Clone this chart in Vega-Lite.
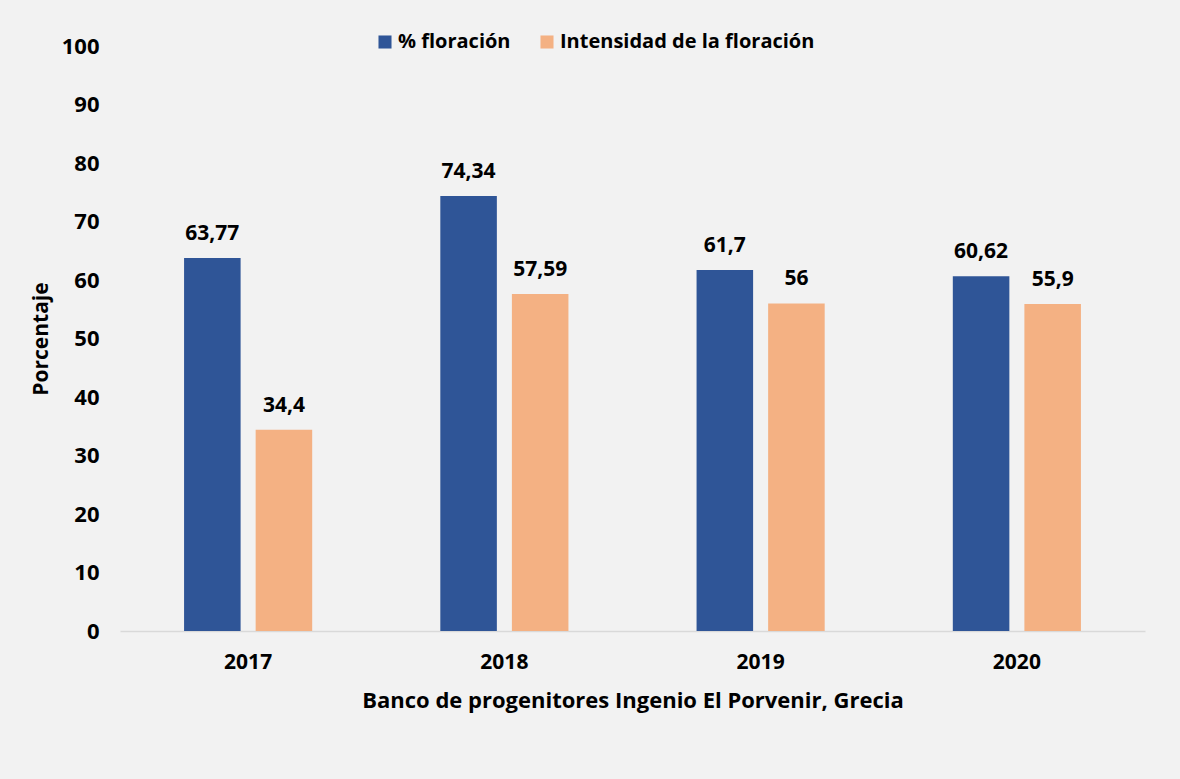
{
  "$schema": "https://vega.github.io/schema/vega-lite/v6.json",
  "autosize": "none",
  "width": 1025,
  "height": 585,
  "padding": {"left": 120, "top": 46, "right": 35, "bottom": 148},
  "background": "#F2F2F2",
  "config": {
    "view": {"stroke": null},
    "font": "Open Sans",
    "locale": {"number": {"decimal": ",", "thousands": ".", "grouping": [3], "currency": ["", ""]}}
  },
  "data": {
    "values": [
      {"year": "2017", "serie": "% floración", "valor": 63.77},
      {"year": "2017", "serie": "Intensidad de la floración", "valor": 34.4},
      {"year": "2018", "serie": "% floración", "valor": 74.34},
      {"year": "2018", "serie": "Intensidad de la floración", "valor": 57.59},
      {"year": "2019", "serie": "% floración", "valor": 61.7},
      {"year": "2019", "serie": "Intensidad de la floración", "valor": 56},
      {"year": "2020", "serie": "% floración", "valor": 60.62},
      {"year": "2020", "serie": "Intensidad de la floración", "valor": 55.9}
    ]
  },
  "encoding": {
    "x": {
      "field": "year", "type": "nominal",
      "scale": {"paddingInner": 0.5, "paddingOuter": 0.25},
      "axis": {
        "title": "Banco de progenitores Ingenio El Porvenir, Grecia",
        "labelAngle": 0, "labelFont": "Open Sans", "labelFontSize": 21, "labelFontWeight": "bold", "labelColor": "#000000",
        "labelPadding": 20, "ticks": false, "domainColor": "#D9D9D9", "domainWidth": 1.5,
        "titleFont": "Open Sans", "titleFontSize": 22, "titleFontWeight": "bold", "titleColor": "#000000", "titlePadding": 18
      }
    },
    "xOffset": {"field": "serie", "type": "nominal", "scale": {"paddingInner": 0.21, "paddingOuter": 0}},
    "y": {
      "field": "valor", "type": "quantitative",
      "scale": {"domain": [0, 100]},
      "axis": {
        "title": "Porcentaje", "values": [0,10,20,30,40,50,60,70,80,90,100], "grid": false, "domain": false, "ticks": false,
        "labelFont": "Open Sans", "labelFontSize": 22, "labelFontWeight": "bold", "labelColor": "#000000", "labelPadding": 21,
        "titleFont": "Open Sans", "titleFontSize": 21, "titleFontWeight": "bold", "titleColor": "#000000", "titlePadding": 10
      }
    }
  },
  "layer": [
    {
      "mark": {"type": "bar"},
      "encoding": {
        "color": {
          "field": "serie", "type": "nominal",
          "scale": {"domain": ["% floración", "Intensidad de la floración"], "range": ["#2F5597", "#F4B183"]},
          "legend": {
            "title": null, "orient": "none", "direction": "horizontal", "legendX": 255, "legendY": -14,
            "symbolType": "square", "symbolSize": 170, "symbolStrokeWidth": 0, "symbolOpacity": 1,
            "labelFont": "Open Sans", "labelFontSize": 20, "labelFontWeight": "bold", "labelColor": "#000000",
            "labelLimit": 400, "columnPadding": 26, "labelOffset": 3
          }
        }
      }
    },
    {
      "mark": {"type": "text", "baseline": "bottom", "dy": -14, "font": "Open Sans", "fontSize": 21, "fontWeight": "bold", "color": "#000000"},
      "encoding": {
        "text": {"field": "valor", "type": "quantitative", "format": "~r"}
      }
    }
  ]
}
